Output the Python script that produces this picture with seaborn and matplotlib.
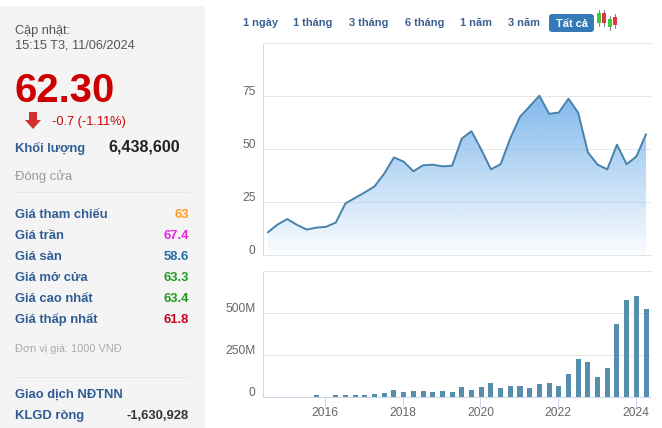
import numpy as np
import pandas as pd
import matplotlib
matplotlib.use("Agg")
import matplotlib.pyplot as plt
import seaborn as sns
from matplotlib.patches import Rectangle, FancyBboxPatch, Polygon
from matplotlib.transforms import ScaledTranslation

# ── Data ──────────────────────────────────────────────────────

quarters = [2014.52, 2014.77, 2015.02, 2015.27, 2015.52, 2015.77, 2016.02, 2016.27,
            2016.52, 2016.77, 2017.02, 2017.27, 2017.52, 2017.77, 2018.02, 2018.27,
            2018.52, 2018.77, 2019.02, 2019.27, 2019.52, 2019.77, 2020.02, 2020.27,
            2020.52, 2020.77, 2021.02, 2021.27, 2021.52, 2021.77, 2022.02, 2022.27,
            2022.52, 2022.77, 2023.02, 2023.27, 2023.52, 2023.77, 2024.02, 2024.27]
price = [10.8, 14.5, 17.0, 14.3, 12.1, 13.0, 13.4, 15.4,
         24.4, 27.0, 29.6, 32.4, 38.4, 46.0, 44.0, 39.5,
         42.3, 42.6, 41.8, 42.1, 54.9, 58.3, 49.7, 40.4,
         42.8, 55.0, 65.1, 70.0, 75.0, 66.5, 67.1, 73.6,
         67.0, 48.4, 42.6, 40.4, 52.0, 42.8, 46.4, 56.9]
volume = [0, 0, 0, 0, 0, 6, 0, 6,
          6, 6, 6, 12, 18, 36, 24, 30,
          30, 24, 30, 24, 54, 36, 54, 78,
          48, 60, 60, 48, 72, 78, 60, 132,
          223, 205, 114, 169, 434, 578, 602, 524]

price_ticks = [0, 25, 50, 75, 100]
price_labels = ["0", "25", "50", "75", ""]
volume_ticks = [0, 250, 500, 750]
volume_labels = ["0", "250M", "500M", ""]
year_ticks = [2016, 2018, 2020, 2022, 2024]

ranges = ["1 ngày", "1 tháng", "3 tháng", "6 tháng", "1 năm", "3 năm"]
range_x = [242.7, 293.3, 349, 404.7, 460, 507.7]

stat_names = ["Giá tham chiếu", "Giá trần", "Giá sàn", "Giá mở cửa", "Giá cao nhất", "Giá thấp nhất"]
stat_values = ["63", "67.4", "58.6", "63.3", "63.4", "61.8"]
stat_colors = ["#ff9a1f", "#f01fe0", "#1f6fa8", "#1f9a1f", "#1f9a1f", "#c8001e"]

# ── Page set-up ───────────────────────────────────────────────

W, H = 662, 428
GRID = "#e6e6e6"
AXIS = "#ccd6eb"
LABEL = "#666666"
LW = 0.72  # one pixel at dpi 100

sns.set_theme(style="white")
plt.rcParams["font.family"] = ["Liberation Sans", "DejaVu Sans"]

def px(size):
    return size * 72 / 100

def panel(left, top, right, bottom):
    return fig.add_axes([left / W, 1 - bottom / H, (right - left) / W, (bottom - top) / H])

fig = plt.figure(figsize=(W / 100, H / 100), dpi=100, facecolor="white")

# page overlay in pixel coordinates
page = fig.add_axes([0, 0, 1, 1], zorder=0)
page.set_xlim(0, W); page.set_ylim(H, 0); page.axis("off")

def put(x, y, s, size=13, color="#333333", weight="normal", ha="left"):
    # y is the middle of the digits, so place on the baseline
    page.text(x, y + 0.358 * size, s, fontsize=px(size), color=color, fontweight=weight,
              ha=ha, va="baseline")

# ── Left info column ──────────────────────────────────────────

page.add_patch(Rectangle((0, 6), 205, H - 6, color="#f4f4f4", lw=0))
BLUE = "#2f5d94"
put(15, 29, "Cập nhật:", 12.8, "#555555")
put(15, 43.5, "15:15 T3, 11/06/2024", 12.8, "#555555")
put(15, 88, "62.30", 40, "#cc0000", "bold")
page.add_patch(Polygon([(29, 112), (37, 112), (37, 120), (41, 120), (33, 129), (25, 120), (29, 120)],
                       color="#d03030", lw=0))
put(52, 120, "-0.7 (-1.11%)", 12.8, "#cc0000")
put(15, 147, "Khối lượng", 13, BLUE, "bold")
put(180, 145.5, "6,438,600", 16, "#222222", "bold", ha="right")
put(15, 175, "Đóng cửa", 13, "#999999")
page.plot([15, 190], [192, 192], color="#e8e8e8", lw=LW)

for i, (name, val, col) in enumerate(zip(stat_names, stat_values, stat_colors)):
    y = 213.3 + i * 21
    put(15, y, name, 13, BLUE, "bold")
    put(189, y, val, 13, col, "bold", ha="right")

put(15, 348, "Đơn vị giá: 1000 VNĐ", 11, "#aaaaaa")
page.plot([15, 190], [377, 377], color="#e8e8e8", lw=LW)
put(15, 393, "Giao dịch NĐTNN", 13, BLUE, "bold")
put(15, 414, "KLGD ròng", 13, BLUE, "bold")
put(189, 414, "-1,630,928", 13, "#333333", "bold", ha="right")

# ── Range buttons and candle icon ─────────────────────────────

for x, label in zip(range_x, ranges):
    put(x, 22.5, label, 11, "#3a6190", "bold")
page.add_patch(FancyBboxPatch((549, 14), 45, 18, boxstyle="round,pad=0,rounding_size=3",
                              mutation_aspect=1, color="#337ab7", lw=0))
put(571.5, 23, "Tất cả", 11, "white", "bold", ha="center")
for x, top, bot, col in [(599, 13, 23, "#3ecb3e"), (604.3, 13, 23, "#e8343c"),
                         (609.7, 19, 27, "#3ecb3e"), (615, 17, 25, "#e8343c")]:
    page.plot([x, x], [top - 3, bot + 3], color="#888888", lw=0.8)
    page.add_patch(Rectangle((x - 2, top), 4, bot - top, color=col, lw=0, zorder=3))

# ── Price chart ───────────────────────────────────────────────

df = pd.DataFrame({"quarter": quarters, "price": price, "volume": volume})

ax = panel(262.5, 42.5, 650.7, 255.3)
ax.patch.set_alpha(0)
sns.lineplot(data=df, x="quarter", y="price", ax=ax, color="#4682aa", lw=1.4, zorder=4)
fill = ax.fill_between(df["quarter"], df["price"], 0, color="none", lw=0)

# vertical gradient clipped to the area under the line
grad = np.zeros((256, 1, 4))
grad[..., 0] = 124 / 255; grad[..., 1] = 181 / 255; grad[..., 2] = 236 / 255
grad[..., 3] = np.linspace(0.95, 0.03, 256)[:, None]
img = ax.imshow(grad, extent=[quarters[0], quarters[-1], 0, max(price)], origin="upper",
                aspect="auto", zorder=3)
img.set_clip_path(fill.get_paths()[0], transform=ax.transData)

ax.set_xlim(2014.38, 2024.39)
ax.set_ylim(0, 100)
ax.set_yticks(price_ticks, price_labels)
ax.set_xticks([])
ax.set_xlabel(""); ax.set_ylabel("")

# ── Volume chart ──────────────────────────────────────────────

ax2 = panel(262.5, 271.3, 650.7, 396.5)
ax2.patch.set_alpha(0)
sns.barplot(data=df, x="quarter", y="volume", ax=ax2, native_scale=True, color="#568fae",
            saturation=1, width=0.52, linewidth=0, zorder=3)
ax2.set_xlim(2014.38, 2024.39)
ax2.set_ylim(0, 750)
ax2.set_yticks(volume_ticks, volume_labels)
ax2.set_xticks(year_ticks, [str(y) for y in year_ticks])
ax2.set_xlabel(""); ax2.set_ylabel("")
ax2.tick_params(axis="x", length=10 * 0.72, width=LW, color=AXIS, pad=0.5,
                labelsize=px(12), labelcolor=LABEL, bottom=True)

shift = ScaledTranslation(0, -1.5 / 72, fig.dpi_scale_trans)
for a in (ax, ax2):
    a.grid(axis="y", color=GRID, lw=LW, zorder=0)
    a.set_axisbelow(True)
    a.tick_params(axis="y", length=0, pad=5, labelsize=px(12), labelcolor=LABEL)
    for lab in a.get_yticklabels():
        lab.set_va("bottom")
        lab.set_transform(lab.get_transform() + shift)
    a.spines["right"].set_visible(False)
    a.spines["top"].set_color(GRID)
    a.spines["left"].set_color(AXIS)
    a.spines["bottom"].set_color(GRID)
    for s in a.spines.values():
        s.set_linewidth(LW)
ax2.spines["bottom"].set_color(AXIS)

fig.savefig("out.png", dpi=100)
